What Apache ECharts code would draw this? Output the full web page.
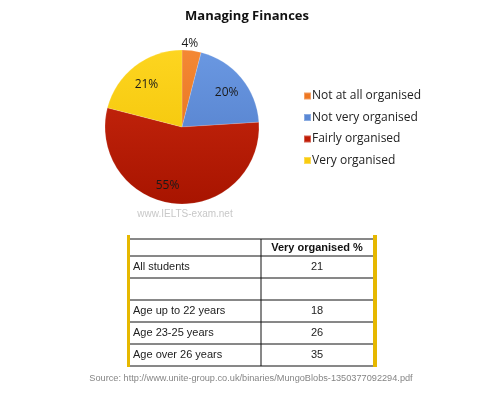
<!DOCTYPE html>
<html>
<head>
<meta charset="utf-8">
<script src="https://cdn.jsdelivr.net/npm/echarts@6/dist/echarts.min.js"></script>
<style>
  html,body{margin:0;padding:0;background:#fff;}
  #main{width:504px;height:396px;}
</style>
</head>
<body>
<div id="main"></div>
<script>
  // pie data
  var categories = ['Not at all organised', 'Not very organised', 'Fairly organised', 'Very organised'];
  var shares = [4, 20, 55, 21];
  var sliceColors = [['#F48834', '#E06A14'], ['#6A98E2', '#4D78C4'], ['#CC2A10', '#A81400'], ['#FDD520', '#F0C000']];
  var legendColors = ['#EE7722', '#5A88D5', '#C01B05', '#F9CC10'];

  // table data
  var tableHeader = 'Very organised %';
  var rowLabels = ['All students', '', 'Age up to 22 years', 'Age 23-25 years', 'Age over 26 years'];
  var rowValues = ['21', '', '18', '26', '35'];

  var chart = echarts.init(document.getElementById('main'));

  var pieData = categories.map(function (c, i) {
    return {
      name: c, value: shares[i],
      itemStyle: {color: {
        type: 'linear', x: 0, y: 50, x2: 0, y2: 204, global: true,
        colorStops: [{offset: 0, color: sliceColors[i][0]}, {offset: 1, color: sliceColors[i][1]}]
      }}
    };
  });

  // small nudges so labels sit like the Excel original
  var labelNudge = {'Not at all organised': [-3, 3], 'Fairly organised': [-9, 1]};

  // label-only pies so the percentages sit where the original puts them
  function labelData(showIdx) {
    return categories.map(function (c, i) {
      return {name: c, value: shares[i], label: {show: showIdx(i), offset: labelNudge[c] || [0, 3]}};
    });
  }

  // table drawn with graphic elements
  var tLeft = 128, tRight = 373, tCol = 261, tTop = 239;
  var rowH = [17, 22, 22, 22, 22, 22];
  var lineFont = '11px "Liberation Sans", Arial, sans-serif';
  var graphics = [];
  var ys = [tTop];
  rowH.forEach(function (h) { ys.push(ys[ys.length - 1] + h); });
  ys.forEach(function (y) {
    graphics.push({type: 'line', shape: {x1: tLeft, y1: y, x2: tRight, y2: y}, style: {stroke: '#111', lineWidth: 1}});
  });
  graphics.push({type: 'line', shape: {x1: tCol, y1: tTop, x2: tCol, y2: ys[ys.length - 1]}, style: {stroke: '#111', lineWidth: 1}});
  graphics.push({type: 'rect', shape: {x: 127, y: 235, width: 3, height: ys[ys.length - 1] - 235 + 1}, style: {fill: '#E6B800'}});
  graphics.push({type: 'rect', shape: {x: 373, y: 235, width: 4, height: ys[ys.length - 1] - 235 + 1}, style: {fill: '#E6B800'}});
  graphics.push({type: 'text', style: {text: tableHeader, x: (tCol + tRight) / 2, y: (ys[0] + ys[1]) / 2,
    align: 'center', verticalAlign: 'middle', font: 'bold ' + lineFont, fill: '#111'}});
  rowLabels.forEach(function (lab, i) {
    var yc = (ys[i + 1] + ys[i + 2]) / 2;
    graphics.push({type: 'text', style: {text: lab, x: 133, y: yc, verticalAlign: 'middle', font: lineFont, fill: '#222'}});
    graphics.push({type: 'text', style: {text: rowValues[i], x: (tCol + tRight) / 2, y: yc,
      align: 'center', verticalAlign: 'middle', font: lineFont, fill: '#222'}});
  });
  graphics.push({type: 'text', style: {text: 'www.IELTS-exam.net', x: 185, y: 214, align: 'center', verticalAlign: 'middle',
    font: '10px "Liberation Sans", Arial, sans-serif', fill: '#C8C8C8'}});
  graphics.push({type: 'text', style: {text: 'Source: http://www.unite-group.co.uk/binaries/MungoBlobs-1350377092294.pdf',
    x: 251, y: 378, align: 'center', verticalAlign: 'middle', font: '9.2px "Liberation Sans", Arial, sans-serif', fill: '#858585'}});

  var option = {
    backgroundColor: '#fff',
    animation: false,
    color: legendColors,
    title: {
      text: 'Managing Finances',
      left: 242, top: 5, textAlign: 'center',
      textStyle: {fontFamily: '"Open Sans", sans-serif', fontSize: 13, fontWeight: 'bold', color: '#111'}
    },
    legend: {
      orient: 'vertical',
      left: 298, top: 85,
      itemWidth: 7, itemHeight: 7, itemGap: 9.5,
      icon: 'rect',
      data: categories.map(function (c, i) { return {name: c, itemStyle: {color: legendColors[i]}}; }),
      textStyle: {fontFamily: '"Open Sans", sans-serif', fontSize: 12, color: '#222', padding: [0, 0, 0, -4]}
    },
    graphic: graphics,
    series: [
      {
        type: 'pie',
        center: [182, 127],
        radius: 77,
        startAngle: 90,
        clockwise: true,
        label: {show: false},
        labelLine: {show: false},
        itemStyle: {borderColor: 'rgba(255,255,255,0.3)', borderWidth: 0.5},
        data: pieData
      },
      {
        type: 'pie',
        silent: true,
        center: [182, 127],
        radius: 110,
        startAngle: 90,
        clockwise: true,
        itemStyle: {color: 'rgba(0,0,0,0)'},
        label: {position: 'inside', formatter: '{c}%', fontFamily: '"Open Sans", sans-serif', fontSize: 12, color: '#1a1a1a'},
        labelLine: {show: false},
        data: labelData(function (i) { return i > 0; })
      },
      {
        type: 'pie',
        silent: true,
        center: [182, 127],
        radius: 168,
        startAngle: 90,
        clockwise: true,
        itemStyle: {color: 'rgba(0,0,0,0)'},
        label: {position: 'inside', formatter: '{c}%', fontFamily: '"Open Sans", sans-serif', fontSize: 12, color: '#1a1a1a'},
        labelLine: {show: false},
        data: labelData(function (i) { return i === 0; })
      }
    ]
  };

  chart.setOption(option);
</script>
</body>
</html>
